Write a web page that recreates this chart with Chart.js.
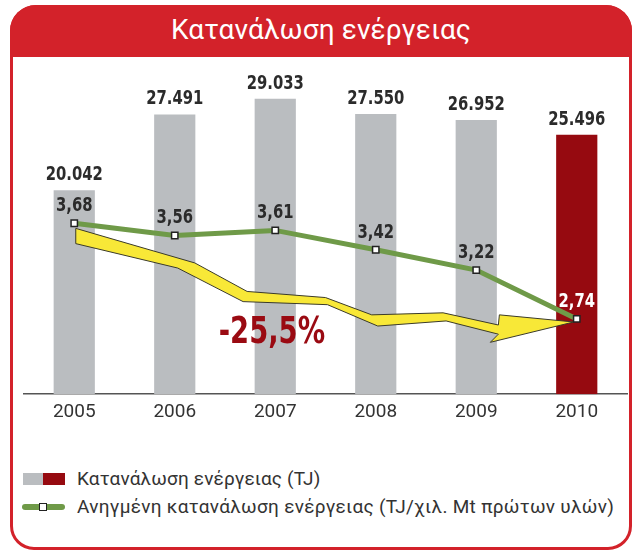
<!DOCTYPE html>
<html lang="el">
<head>
<meta charset="UTF-8">
<title>Κατανάλωση ενέργειας</title>
<style>
    body {
        margin: 0;
        padding: 0;
        background: #fff;
        font-family: Roboto, "DejaVu Sans", sans-serif;
    }

    #frame {
        position: absolute;
        left: 10px;
        top: 5px;
        width: 616px;
        height: 539px;
        border: 3px solid #d3222a;
        border-radius: 26px 26px 24px 24px;
    }

    #header {
        position: absolute;
        left: 10px;
        top: 5px;
        width: 622px;
        height: 52px;
        background: #d3222a;
        border-radius: 26px 26px 0 0;
        color: #fff;
        font-size: 28px;
        line-height: 50px;
        text-align: center;
        letter-spacing: 0.1px;
    }

    #chart-box {
        position: absolute;
        left: 0;
        top: 0;
        width: 633px;
        height: 552px;
    }

    .legend-row {
        position: absolute;
        left: 77px;
        font-size: 19px;
        color: #333;
        line-height: 24px;
        white-space: nowrap;
        letter-spacing: 0.15px;
    }

    .sw-gray, .sw-red {
        position: absolute;
        top: 473px;
        height: 12px;
    }

    .sw-gray { left: 23px; width: 20px; background: #babdc0; }
    .sw-red { left: 43px; width: 22px; background: #960a10; }

    .sw-line {
        position: absolute;
        left: 22px;
        top: 504px;
        width: 43px;
        height: 6px;
        border-radius: 3px;
        background: #6f9a48;
    }

    .sw-point {
        position: absolute;
        left: 39px;
        top: 503px;
        width: 6px;
        height: 6px;
        background: #fff;
        border: 1.5px solid #222;
    }
</style>
</head>
<body>
    <div id="frame"></div>
    <div id="header">Κατανάλωση ενέργειας</div>

    <div class="sw-gray"></div><div class="sw-red"></div>
    <div class="legend-row" style="top:467px">Κατανάλωση ενέργειας (TJ)</div>
    <div class="sw-line"></div><div class="sw-point"></div>
    <div class="legend-row" style="top:495px; letter-spacing:0.3px">Ανηγμένη κατανάλωση ενέργειας (TJ/χιλ. Mt πρώτων υλών)</div>

    <div id="chart-box"><canvas id="energyChart"></canvas></div>

    <script src="https://cdn.jsdelivr.net/npm/chart.js"></script>
    <script>
        // Στοιχεία
        const years = ['2005', '2006', '2007', '2008', '2009', '2010'];
        const consumptionTJ = [20042, 27491, 29033, 27550, 26952, 25496];
        const specificConsumption = [3.68, 3.56, 3.61, 3.42, 3.22, 2.74];

        const GRAY = '#babdc0';
        const DARK_RED = '#960a10';
        const GREEN = '#6f9a48';
        const YELLOW = '#f8e837';

        function fmtThousands(v) {
            return String(v).replace(/\B(?=(\d{3})+(?!\d))/g, '.');
        }

        function fmtComma(v, d) {
            return v.toFixed(d).replace('.', ',');
        }

        // κείμενο στενεμένο οριζόντια (δεν υπάρχει condensed γραμματοσειρά)
        function drawText(ctx, text, x, y, font, color, sx) {
            ctx.save();
            ctx.font = font;
            ctx.fillStyle = color;
            ctx.textAlign = 'center';
            ctx.textBaseline = 'middle';
            ctx.translate(x, y);
            ctx.scale(sx, 1);
            ctx.fillText(text, 0, 0);
            ctx.restore();
        }

        // κίτρινο βέλος, σε συντεταγμένες (θέση κατηγορίας, τιμή άξονα y1)
        const arrowPlugin = {
            id: 'arrow',
            beforeDatasetDraw(chart, args) {
                if (args.meta.type !== 'line') return;
                const pts = [
                    [0.015, 3.63], [1.20, 3.29], [1.72, 3.01], [2.50, 2.95], [2.96, 2.78],
                    [3.67, 2.80], [4.22, 2.68], [4.23, 2.78], [4.97, 2.71], [4.14, 2.51],
                    [4.22, 2.59], [3.70, 2.72], [3.02, 2.67], [2.52, 2.88], [1.68, 2.91],
                    [1.03, 3.24], [0.015, 3.48]
                ];
                const x = chart.scales.x, y = chart.scales.y1, ctx = chart.ctx;
                ctx.save();
                ctx.beginPath();
                pts.forEach((p, i) => {
                    const px = x.getPixelForValue(p[0]), py = y.getPixelForValue(p[1]);
                    if (i === 0) ctx.moveTo(px, py); else ctx.lineTo(px, py);
                });
                ctx.closePath();
                ctx.fillStyle = YELLOW;
                ctx.fill();
                ctx.lineWidth = 1;
                ctx.lineJoin = 'miter';
                ctx.strokeStyle = '#3a3a2a';
                ctx.stroke();
                ctx.restore();
            }
        };

        const labelsPlugin = {
            id: 'valueLabels',
            afterDatasetsDraw(chart) {
                const ctx = chart.ctx;
                const numFont = 'bold 19px "DejaVu Sans", sans-serif';
                const barMeta = chart.getDatasetMeta(1);
                barMeta.data.forEach((bar, i) => {
                    drawText(ctx, fmtThousands(consumptionTJ[i]), bar.x, bar.y - 15, numFont, '#2b2b2b', 0.78);
                });
                const lineMeta = chart.getDatasetMeta(0);
                lineMeta.data.forEach((pt, i) => {
                    const last = i === lineMeta.data.length - 1;
                    drawText(ctx, fmtComma(specificConsumption[i], 2), pt.x, pt.y - 17, numFont,
                        last ? '#fff' : '#2b2b2b', 0.78);
                });
                // μεταβολή 2005 -> 2010
                const first = specificConsumption[0];
                const lastVal = specificConsumption[specificConsumption.length - 1];
                const change = (lastVal - first) / first * 100;
                const cx = chart.scales.x.getPixelForValue(1.967);
                const cy = chart.scales.y1.getPixelForValue(2.595);
                drawText(ctx, fmtComma(change, 1) + '%', cx, cy, 'bold 37px "DejaVu Sans", sans-serif', '#9a0a12', 0.74);
            }
        };

        const ctx = document.getElementById('energyChart').getContext('2d');
        const energyChart = new Chart(ctx, {
            type: 'bar',
            data: {
                labels: years,
                datasets: [{
                    type: 'line',
                    label: 'Ανηγμένη κατανάλωση ενέργειας (TJ/χιλ. Mt πρώτων υλών)',
                    data: specificConsumption,
                    yAxisID: 'y1',
                    order: 0,
                    borderColor: GREEN,
                    borderWidth: 5,
                    borderJoinStyle: 'miter',
                    tension: 0,
                    pointStyle: 'rect',
                    pointRadius: 4.5,
                    pointBackgroundColor: '#fff',
                    pointBorderColor: '#222',
                    pointBorderWidth: 1.5
                }, {
                    type: 'bar',
                    label: 'Κατανάλωση ενέργειας (TJ)',
                    data: consumptionTJ,
                    yAxisID: 'y',
                    order: 1,
                    backgroundColor: (c) => c.dataIndex === consumptionTJ.length - 1 ? DARK_RED : GRAY,
                    borderWidth: 0,
                    barPercentage: 0.41,
                    categoryPercentage: 1.0
                }]
            },
            options: {
                responsive: true,
                maintainAspectRatio: false,
                animation: false,
                layout: { padding: { left: 24, right: 6, top: 89, bottom: 121 } },
                plugins: {
                    legend: { display: false },
                    tooltip: { enabled: false }
                },
                scales: {
                    x: {
                        grid: { display: false, drawTicks: false },
                        border: { display: true, color: '#555', width: 1.5 },
                        ticks: { color: '#333', font: { family: 'Roboto', size: 19 }, padding: 7 }
                    },
                    y: { display: false, min: 0, max: 30000 },
                    y1: { display: false, min: 2, max: 5 }
                }
            },
            plugins: [arrowPlugin, labelsPlugin]
        });
    </script>
</body>
</html>
